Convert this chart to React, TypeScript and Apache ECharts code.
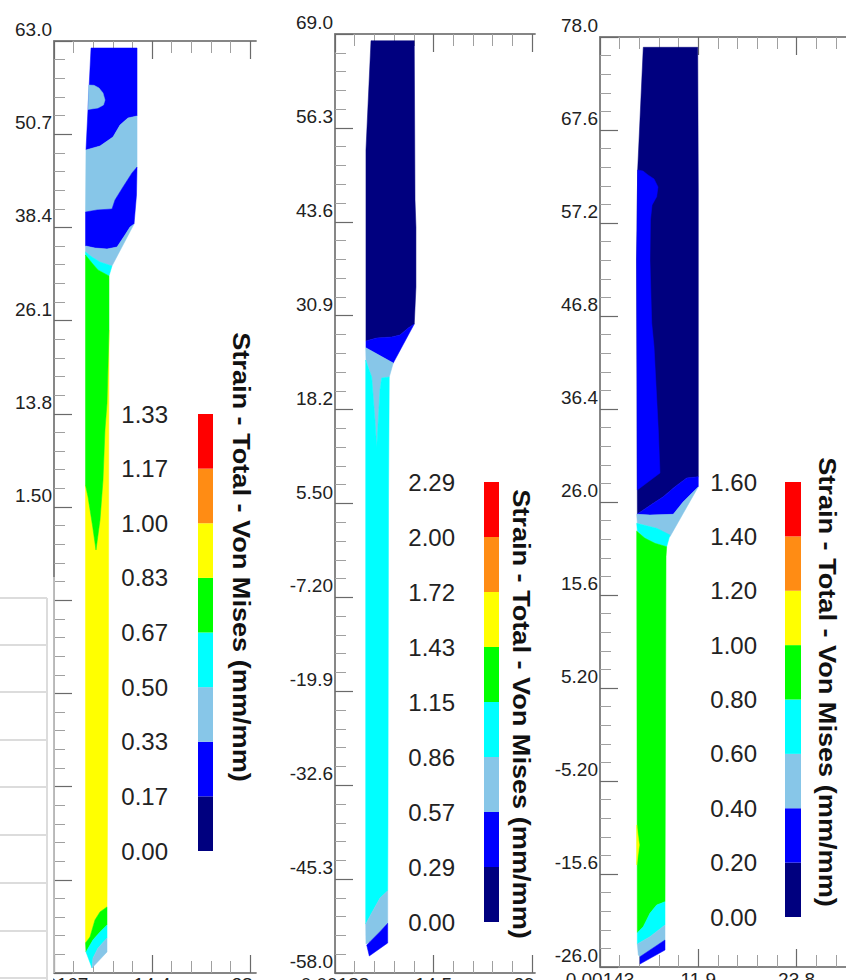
import React, { useEffect, useRef } from "react";
import * as echarts from "echarts";

const NAVY = "#00007f";
const BLUE = "#0000ff";
const SKY = "#87c6e8";
const CYAN = "#00ffff";
const GREEN = "#00ff00";
const YELLOW = "#ffff00";
const ORANGE = "#ff8c14";
const RED = "#ff0000";
const bandColors = [NAVY, BLUE, SKY, CYAN, GREEN, YELLOW, ORANGE, RED];

const legendOne = ["0.00", "0.17", "0.33", "0.50", "0.67", "0.83", "1.00", "1.17", "1.33"];
const legendTwo = ["0.00", "0.29", "0.57", "0.86", "1.15", "1.43", "1.72", "2.00", "2.29"];
const legendThree = ["0.00", "0.20", "0.40", "0.60", "0.80", "1.00", "1.20", "1.40", "1.60"];

const yMajorOne = [63, 50.7, 38.4, 26.1, 13.8, 1.5, -10.8, -23.1, -35.4, -47.7, -60];
const yLabelsOne = ["63.0", "50.7", "38.4", "26.1", "13.8", "1.50"];
const yLabelsTwo = ["69.0", "56.3", "43.6", "30.9", "18.2", "5.50", "-7.20", "-19.9", "-32.6", "-45.3", "-58.0"];
const yLabelsThree = ["78.0", "67.6", "57.2", "46.8", "36.4", "26.0", "15.6", "5.20", "-5.20", "-15.6", "-26.0"];

const xMajorOne = [0, 14.4, 28.8];
const xMajorTwo = [0, 14.5, 29];
const xMajorThree = [0, 11.9, 23.8];
const xLabelsOne = ["0.00167", "14.4", "28.8"];
const xLabelsTwo = ["0.00188", "14.5", "29.0"];
const xLabelsThree = ["0.00143", "11.9", "23.8"];

type P = [number, number];
// Panel one regions
const a1: P[] = [[5.44, 62.08], [12.2, 62.08], [12.2, 53.1], [10.87, 52.84], [9.7, 51.91], [8.67, 50.33], [6.76, 49.14], [4.7, 48.62]];
const a2: P[] = [[5.1, 57.19], [5.88, 57.15], [6.61, 56.8], [7.2, 56.14], [7.49, 55.21], [7.27, 54.55], [6.47, 54.16], [5.0, 53.96]];
const a3: P[] = [[4.7, 48.62], [6.76, 49.14], [8.67, 50.33], [9.7, 51.91], [10.87, 52.84], [12.2, 53.1], [12.2, 46.37], [11.46, 45.58], [10.14, 43.73], [8.96, 42.02], [8.52, 40.83], [6.32, 40.7], [4.63, 40.43]];
const a4: P[] = [[4.63, 40.43], [6.32, 40.7], [8.52, 40.83], [8.96, 42.02], [10.14, 43.73], [11.46, 45.58], [12.2, 46.37], [12.12, 42.68], [11.76, 38.85], [11.17, 38.45], [10.43, 37.4], [9.26, 35.81], [7.79, 35.55], [6.02, 35.68], [4.63, 35.95]];
const a5: P[] = [[4.63, 35.95], [6.02, 35.68], [7.79, 35.55], [9.26, 35.81], [10.43, 37.4], [11.17, 38.45], [11.76, 38.85], [8.52, 33.31], [6.76, 33.83], [5.58, 34.49], [4.63, 35.15]];
const a6: P[] = [[4.63, 35.15], [5.58, 34.49], [6.76, 33.83], [8.52, 33.31], [8.08, 31.99], [6.47, 32.78], [5.58, 33.7], [4.63, 34.76]];
const a7: P[] = [[4.63, 34.76], [5.58, 33.7], [6.47, 32.78], [8.08, 31.99], [8.08, 24.86], [7.79, 15.23], [7.49, 11.66], [7.2, 5.07], [6.76, -0.21], [6.17, -4.17], [5.69, -1.14], [5.0, 2.82], [4.63, 4.41]];
const a8: P[] = [[4.63, 4.41], [5.0, 2.82], [5.69, -1.14], [6.17, -4.17], [6.76, -0.21], [7.2, 5.07], [7.49, 11.66], [7.79, 15.23], [8.08, 24.86], [8.0, -17.37], [7.79, -51.28], [6.76, -51.94], [6.02, -53.0], [5.29, -55.24], [4.63, -56.04]];
const a9: P[] = [[7.79, -51.28], [6.76, -51.94], [6.02, -53.0], [5.29, -55.24], [4.63, -56.04], [4.7, -57.22], [5.73, -55.64], [6.76, -54.58], [7.79, -53.66]];
const a10: P[] = [[7.79, -53.66], [6.76, -54.58], [5.73, -55.64], [4.7, -57.22], [5.58, -59.33], [5.73, -58.01], [6.47, -56.7], [7.79, -55.38]];
const a11: P[] = [[7.79, -55.38], [6.47, -56.7], [5.73, -58.01], [5.58, -59.33], [7.79, -57.22]];
const regionsOne: [string, P[]][] = [[BLUE, a1], [SKY, a2], [SKY, a3], [BLUE, a4], [SKY, a5], [CYAN, a6], [YELLOW, a8], [GREEN, a7], [GREEN, a9], [CYAN, a10], [SKY, a11]];

// Panel two regions
const b1: P[] = [[5.3, 68.09], [11.67, 68.09], [11.78, 46.55], [11.92, 42.9], [11.92, 34.78], [11.67, 29.78], [10.79, 29.24], [9.57, 28.29], [8.35, 28.02], [6.14, 27.88], [4.56, 27.48], [4.56, 53.31]];
const b2: P[] = [[4.56, 27.48], [6.14, 27.88], [8.35, 28.02], [9.57, 28.29], [10.79, 29.24], [11.67, 29.78], [8.58, 24.5], [4.56, 26.57]];
const b3: P[] = [[4.52, 26.57], [8.58, 24.5], [7.99, 22.61], [6.87, 22.47], [6.62, 20.85], [6.14, 13.01], [5.89, 16.79], [5.4, 22.61], [4.56, 24.91]];
const b4: P[] = [[4.52, 24.91], [5.4, 22.61], [5.89, 16.79], [6.14, 13.01], [6.62, 20.85], [6.87, 22.47], [7.99, 22.61], [7.88, 5.97], [7.8, -37.31], [7.76, -46.87], [6.62, -47.86], [5.64, -49.48], [4.52, -51.37]];
const b5: P[] = [[7.76, -46.87], [6.62, -47.86], [5.64, -49.48], [4.52, -51.37], [4.56, -54.08], [5.15, -53.77], [6.62, -52.41], [7.76, -51.28]];
const b6: P[] = [[7.76, -51.28], [6.62, -52.41], [5.15, -53.77], [4.67, -54.21], [5.05, -55.7], [7.76, -53.94]];
const regionsTwo: [string, P[]][] = [[NAVY, b1], [BLUE, b2], [SKY, b3], [CYAN, b4], [SKY, b5], [BLUE, b6]];

// Panel three regions
const c1: P[] = [[5.24, 76.85], [11.83, 76.85], [11.9, 60.89], [11.9, 28.83], [10.5, 28.68], [9.08, 27.71], [7.66, 26.59], [6.45, 25.85], [4.52, 24.66], [4.44, 53.06], [4.56, 63.13]];
const c2: P[] = [[4.56, 63.13], [5.21, 63.01], [5.81, 62.57], [6.54, 62.13], [7.02, 61.23], [6.86, 60.14], [6.3, 59.21], [6.11, 57.53], [6.05, 53.06], [6.26, 46.02], [6.54, 43.37], [7.06, 34.05], [7.26, 29.24], [4.52, 27.34], [4.44, 53.06]];
const c3: P[] = [[4.52, 24.66], [6.45, 25.85], [7.66, 26.59], [9.08, 27.71], [10.5, 28.68], [11.9, 28.83], [11.9, 27.71], [10.08, 26.03], [8.87, 24.62], [6.05, 24.55], [4.52, 24.62]];
const c4: P[] = [[4.44, 24.62], [6.05, 24.55], [8.87, 24.62], [10.08, 26.03], [11.9, 27.71], [8.47, 22.12], [6.86, 23.06], [4.52, 23.62]];
const c5: P[] = [[4.44, 23.62], [6.86, 23.06], [8.47, 22.31], [8.07, 21.0], [6.66, 21.38], [5.45, 21.94], [4.52, 22.76]];
const c6: P[] = [[4.44, 22.76], [5.45, 21.94], [6.66, 21.38], [8.07, 21.0], [7.99, 19.88], [7.87, -18.7], [6.86, -19.07], [6.05, -20.0], [5.24, -21.49], [4.52, -22.17]];
const c7: P[] = [[4.44, -10.12], [4.76, -12.36], [4.44, -14.59]];
const c8: P[] = [[7.87, -18.7], [6.86, -19.07], [6.05, -20.0], [5.24, -21.49], [4.52, -22.17], [4.52, -23.43], [6.05, -22.61], [7.87, -21.3]];
const c9: P[] = [[7.87, -21.3], [6.05, -22.61], [4.52, -23.43], [4.64, -24.66], [4.84, -24.85], [7.87, -22.98]];
const c10: P[] = [[7.87, -22.98], [4.84, -24.85], [4.84, -25.67], [7.87, -24.1]];
const regionsThree: [string, P[]][] = [[NAVY, c1], [BLUE, c2], [BLUE, c3], [SKY, c4], [CYAN, c5], [GREEN, c6], [YELLOW, c7], [CYAN, c8], [SKY, c9], [BLUE, c10]];

const TEXT = "#222222";
const FONT = "Liberation Sans";
const AXIS = "#7f7f7f";
const TITLE = "Strain - Total - Von Mises (mm/mm)";

function subTicks(major: number[]): number[] {
  const out: number[] = [];
  for (let i = 0; i < major.length - 1; i++) {
    for (let k = 1; k < 5; k++) out.push(major[i] + ((major[i + 1] - major[i]) * k) / 5);
  }
  return out;
}

function nearest(labels: string[], v: number): string {
  let best = "";
  let d = Infinity;
  for (const l of labels) {
    const e = Math.abs(Number(l) - v);
    if (e < d) {
      d = e;
      best = l;
    }
  }
  return d < 1e-6 ? best : "";
}

type Panel = {
  left: number; top: number; width: number; height: number; xMax: number;
  xMajor: number[]; xMinor: number[]; xLabels: string[]; xMargin: number;
  yMajor: number[]; yLabels: string[]; regions: [string, P[]][];
  legend: string[]; barLeft: number; barTop: number; barWidth: number; barHeight: number; labelGap: number;
};

const panels: Panel[] = [
  { left: 54, top: 41, width: 202, height: 932, xMax: 29.68, xMajor: xMajorOne, xMinor: subTicks(xMajorOne), xLabels: xLabelsOne, xMargin: 2, yMajor: yMajorOne, yLabels: yLabelsOne, regions: regionsOne, legend: legendOne, barLeft: 198, barTop: 414, barWidth: 15, barHeight: 437, labelGap: 30 },
  { left: 335, top: 34, width: 200, height: 939, xMax: 29.45, xMajor: xMajorTwo, xMinor: subTicks(xMajorTwo), xLabels: xLabelsTwo, xMargin: 2, yMajor: yLabelsTwo.map(Number), yLabels: yLabelsTwo, regions: regionsTwo, legend: legendTwo, barLeft: 484, barTop: 482, barWidth: 15, barHeight: 440, labelGap: 29 },
  { left: 600, top: 37, width: 246, height: 930, xMax: 29.78, xMajor: xMajorThree, xMinor: subTicks([0, 11.9, 23.8, 35.7]).filter((v) => v < 29.7), xLabels: xLabelsThree, xMargin: 3, yMajor: yLabelsThree.map(Number), yLabels: yLabelsThree, regions: regionsThree, legend: legendThree, barLeft: 785, barTop: 482, barWidth: 16, barHeight: 435, labelGap: 28 },
];

function buildOption() {
  const grid: any[] = [];
  const xAxis: any[] = [];
  const yAxis: any[] = [];
  const series: any[] = [];
  panels.forEach((p) => {
    const g = grid.length;
    grid.push({ left: p.left, top: p.top, width: p.width, height: p.height, containLabel: false, outerBoundsMode: "none" });
    const xBase = { type: "value", gridIndex: g, min: 0, max: p.xMax, splitLine: { show: false }, axisLine: { onZero: false, lineStyle: { color: AXIS, width: 1.5 } } };
    const xMain = xAxis.length;
    const majorStyle = { color: "#6a6a6a", width: 1.2 };
    const minorStyle = { color: "#a0a0a0", width: 1 };
    xAxis.push({ ...xBase, position: "bottom", axisTick: { inside: true, length: 18, customValues: p.xMajor, lineStyle: majorStyle },
      axisLabel: { customValues: p.xMajor, margin: p.xMargin, fontFamily: FONT, fontSize: 19, color: TEXT, hideOverlap: false, formatter: (v: number) => p.xLabels[p.xMajor.findIndex((m) => Math.abs(m - v) < 1e-6)] ?? "" } });
    xAxis.push({ ...xBase, position: "bottom", axisTick: { inside: true, length: 12, customValues: p.xMinor, lineStyle: minorStyle }, axisLabel: { show: false } });
    xAxis.push({ ...xBase, position: "top", axisTick: { inside: true, length: 18, customValues: p.xMajor, lineStyle: majorStyle }, axisLabel: { show: false } });
    xAxis.push({ ...xBase, position: "top", axisTick: { inside: true, length: 12, customValues: p.xMinor, lineStyle: minorStyle }, axisLabel: { show: false } });
    const yMin = Math.min(...p.yMajor);
    const yMax = Math.max(...p.yMajor);
    const yBase = { type: "value", gridIndex: g, min: yMin, max: yMax, position: "left", splitLine: { show: false }, axisLine: { onZero: false, lineStyle: { color: AXIS, width: 1.5 } } };
    const yMain = yAxis.length;
    const sorted = [...p.yMajor].sort((a, b) => a - b);
    yAxis.push({ ...yBase, axisTick: { inside: true, length: 18, customValues: p.yMajor, lineStyle: majorStyle },
      axisLabel: { customValues: p.yLabels.map(Number), margin: 2, align: "right", verticalAlign: "bottom", padding: [0, 0, 2, 0], fontFamily: FONT, fontSize: 19, color: TEXT, formatter: (v: number) => nearest(p.yLabels, v) } });
    yAxis.push({ ...yBase, axisTick: { inside: true, length: 11, customValues: subTicks(sorted), lineStyle: minorStyle }, axisLabel: { show: false } });
    series.push({
      type: "custom", xAxisIndex: xMain, yAxisIndex: yMain, clip: false, silent: true,
      data: p.regions.map(() => [0, yMin]),
      renderItem: (params: any, api: any) => {
        const [color, pts] = p.regions[params.dataIndex];
        return { type: "polygon", shape: { points: pts.map((q) => api.coord(q)) }, style: { fill: color, stroke: color, lineWidth: 0.5 } };
      },
    });

    const lg = grid.length;
    grid.push({ left: p.barLeft, top: p.barTop, width: p.barWidth, height: p.barHeight, containLabel: false, outerBoundsMode: "none" });
    const lx = xAxis.length;
    xAxis.push({ type: "value", gridIndex: lg, min: 0, max: 1, show: false });
    const ly = yAxis.length;
    yAxis.push({ type: "category", gridIndex: lg, data: p.legend, boundaryGap: false, position: "left",
      axisLine: { show: false }, axisTick: { show: false }, splitLine: { show: false },
      axisLabel: { interval: 0, margin: p.labelGap, fontFamily: FONT, fontSize: 24, color: TEXT } });
    series.push({
      type: "custom", xAxisIndex: lx, yAxisIndex: ly, clip: false, silent: true,
      data: bandColors.map((_, i) => [0, i]),
      renderItem: (params: any, api: any) => {
        const i = params.dataIndex;
        const a = api.coord([0, i]);
        const b = api.coord([1, i + 1]);
        return { type: "rect", shape: { x: a[0], y: b[1], width: b[0] - a[0], height: a[1] - b[1] }, style: { fill: bandColors[i] } };
      },
    });
  });

  const titleText = (x: number, y: number) => ({
    type: "text", x, y, rotation: -Math.PI / 2, scaleX: 1.18, z: 50,
    style: { text: TITLE, fontFamily: FONT, fontWeight: "bold", fontSize: 23, fill: "#111111", textAlign: "center", textVerticalAlign: "middle" },
  });
  const white = (x: number, y: number, width: number, height: number) => ({ type: "rect", z: 100, shape: { x, y, width, height }, style: { fill: "#ffffff" } });
  const rule = (x1: number, y1: number, x2: number, y2: number, color = "#dcdcdc", lineWidth = 2) => ({ type: "line", z: 101, shape: { x1, y1, x2, y2 }, style: { stroke: color, lineWidth } });
  const graphic = [
    titleText(241, 557), titleText(521, 714), titleText(827, 682),
    white(0, 577, 53.2, 403),
    white(256.5, 973.8, 45, 7),
    white(535.5, 973.8, 30, 7),
    rule(54, 577, 54, 973, "#c8c8c8", 1.5),
    rule(47, 598, 47, 980),
    ...[598, 645, 692, 740, 787, 835, 883, 931, 978].map((y) => rule(0, y, 47, y)),
  ];

  return { animation: false, backgroundColor: "#ffffff", grid, xAxis, yAxis, series, graphic };
}

export default function App() {
  const ref = useRef<HTMLDivElement>(null);
  useEffect(() => {
    document.body.style.margin = "0";
    const chart = echarts.init(ref.current as HTMLDivElement, null, { renderer: "svg" });
    chart.setOption(buildOption() as any);
    return () => chart.dispose();
  }, []);
  return <div ref={ref} style={{ width: 846, height: 980, position: "absolute", left: 0, top: 0, overflow: "hidden" }} />;
}
